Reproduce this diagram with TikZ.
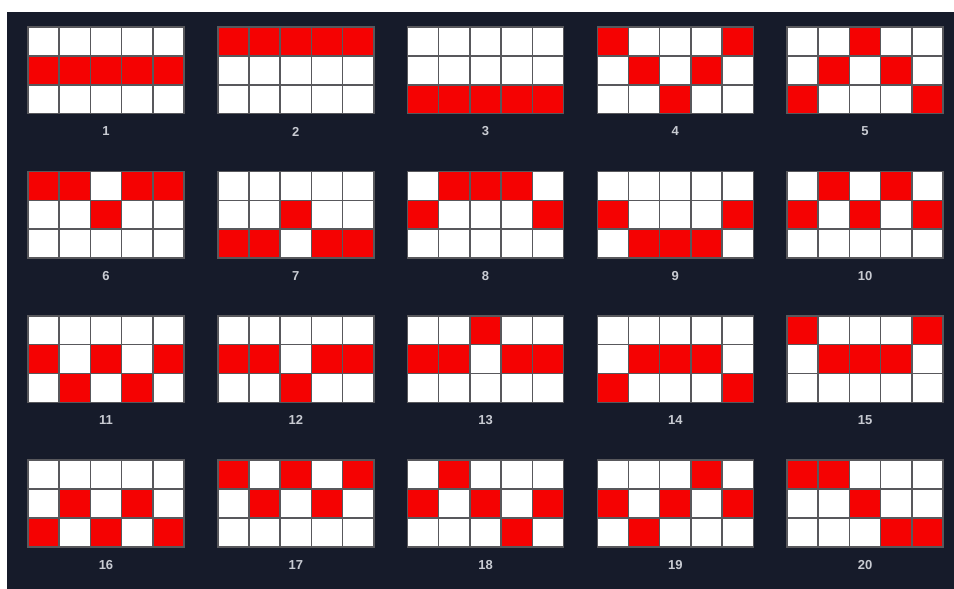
\documentclass[tikz,border=0pt]{standalone}
\usepackage{tikz}
\usepackage{xcolor}
\usepackage{fontspec}
\setsansfont{Liberation Sans}
\definecolor{navybg}{RGB}{22, 27, 42}
\definecolor{payred}{RGB}{245, 2, 2}
\definecolor{cellgray}{RGB}{88, 88, 92}
\definecolor{labelgray}{RGB}{200, 203, 210}

\begin{document}
\begin{tikzpicture}[
  x=1pt, y=-1pt,
  cell/.style={draw=cellgray, line width=1.5pt, fill=#1},
  lbl/.style={text=labelgray, font=\sffamily\bfseries\fontsize{13}{13}\selectfont}
]
\fill[white]  (0,0)  rectangle (954,589);
\fill[navybg] (7,12) rectangle (954,589);
% one entry per payline: lit row (0 top, 2 bottom) in each of the 5 reels
\foreach \pat [count=\n] in {{1,1,1,1,1},{0,0,0,0,0},{2,2,2,2,2},{0,1,2,1,0},{2,1,0,1,2},
                              {0,0,1,0,0},{2,2,1,2,2},{1,0,0,0,1},{1,2,2,2,1},{1,0,1,0,1},
                              {1,2,1,2,1},{1,1,2,1,1},{1,1,0,1,1},{2,1,1,1,2},{0,1,1,1,0},
                              {2,1,2,1,2},{0,1,0,1,0},{1,0,1,2,1},{1,2,1,0,1},{0,0,1,2,2}}{
  \pgfmathsetmacro\gx{28+189.75*mod(\n-1,5)}
  \pgfmathsetmacro\gy{27+144.4*div(\n-1,5)}
  \foreach \hit [count=\c from 0] in \pat {
    \foreach \r in {0,1,2}{
      \ifnum\r=\hit \def\cellcol{payred}\else\def\cellcol{white}\fi
      \draw[cell=\cellcol] ({\gx+31.2*\c},{\gy+28.9*\r}) rectangle ++(31.2,28.9);
    }
  }
  \node[lbl] (line\n) at ({\gx+78},{\gy+104.5}) {\n};
}
\end{tikzpicture}
\end{document}
